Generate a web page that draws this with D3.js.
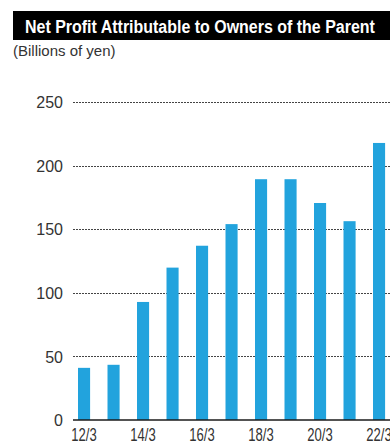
<!DOCTYPE html>
<html>
<head>
<meta charset="utf-8">
<script src="https://cdn.jsdelivr.net/npm/d3@7/dist/d3.min.js"></script>
<style>
  html, body { margin: 0; padding: 0; background: #fff; }
  svg { display: block; }
</style>
</head>
<body>
<svg id="chart" width="390" height="443"></svg>
<script>
const categories = ["12/3","13/3","14/3","15/3","16/3","17/3","18/3","19/3","20/3","21/3","22/3"];
const values = [41.0, 43.4, 92.8, 119.8, 137.0, 154.0, 189.3, 189.3, 170.6, 156.3, 217.8];
const tickLabels = ["12/3","14/3","16/3","18/3","20/3","22/3"];
const yTicks = [0, 50, 100, 150, 200, 250];
const title = "Net Profit Attributable to Owners of the Parent";
const unitLabel = "(Billions of yen)";

const W = 390, H = 443;
const svg = d3.select("#chart");

// squeeze a text horizontally to a target width around its anchor
function squeeze(sel, target) {
  sel.each(function() {
    const w = this.getComputedTextLength();
    if (w > 0) {
      const k = target / w;
      const ax = +this.getAttribute("x") || 0;
      d3.select(this).attr("transform", `translate(${ax},0) scale(${k},1) translate(${-ax},0)`);
    }
  });
}

// title bar
svg.append("rect").attr("x", 13).attr("y", 11).attr("width", W - 13).attr("height", 29).attr("fill", "#000");
svg.append("text")
  .attr("x", 25).attr("y", 33.5)
  .attr("fill", "#fff")
  .attr("font-family", "'Liberation Sans', Arial, sans-serif")
  .attr("font-weight", "bold")
  .attr("font-size", 19)
  .text(title)
  .call(squeeze, 350);

svg.append("text")
  .attr("x", 13).attr("y", 56)
  .attr("fill", "#333")
  .attr("font-family", "'Liberation Sans', Arial, sans-serif")
  .attr("font-size", 15)
  .text(unitLabel);

const x = d3.scaleBand().domain(categories).range([69.3, 393.8]).paddingInner(0.59).paddingOuter(0.295);
const y = d3.scaleLinear().domain([0, 250]).range([420, 102]);

const plotLeft = 73, plotRight = W;

// gridlines
const grid = svg.append("g");
yTicks.filter(t => t > 0).forEach(t => {
  grid.append("line")
    .attr("x1", plotLeft).attr("x2", plotRight)
    .attr("y1", Math.round(y(t)) + 0.5).attr("y2", Math.round(y(t)) + 0.5)
    .attr("stroke", "#444").attr("stroke-width", 1)
    .attr("stroke-dasharray", "2,1");
});

// y labels
const yAxis = d3.axisLeft(y).tickValues(yTicks).tickSize(0).tickPadding(0);
const yg = svg.append("g").attr("transform", `translate(63,0)`).call(yAxis);
yg.select(".domain").remove();
yg.selectAll("text")
  .attr("fill", "#333")
  .attr("font-family", "'Liberation Sans', Arial, sans-serif")
  .attr("font-size", 16)
  .attr("dy", "0.36em");

// bars
svg.append("g").selectAll("rect").data(values).join("rect")
  .attr("x", (d, i) => x(categories[i]))
  .attr("width", x.bandwidth())
  .attr("y", d => y(d))
  .attr("height", d => y(0) - y(d))
  .attr("fill", "#22a3dd");

// baseline
svg.append("line")
  .attr("x1", plotLeft).attr("x2", plotRight)
  .attr("y1", y(0)).attr("y2", y(0))
  .attr("stroke", "#1a1a1a").attr("stroke-width", 1.5);

// x labels
const xAxis = d3.axisBottom(x).tickValues(tickLabels).tickSize(0).tickPadding(0);
const xg = svg.append("g").attr("transform", `translate(0,${y(0)})`).call(xAxis);
xg.select(".domain").remove();
xg.selectAll("text")
  .attr("fill", "#333")
  .attr("font-family", "'Liberation Sans', Arial, sans-serif")
  .attr("font-size", 19)
  .attr("y", 21)
  .attr("dy", 0)
  .call(squeeze, 25.5);
</script>
</body>
</html>
